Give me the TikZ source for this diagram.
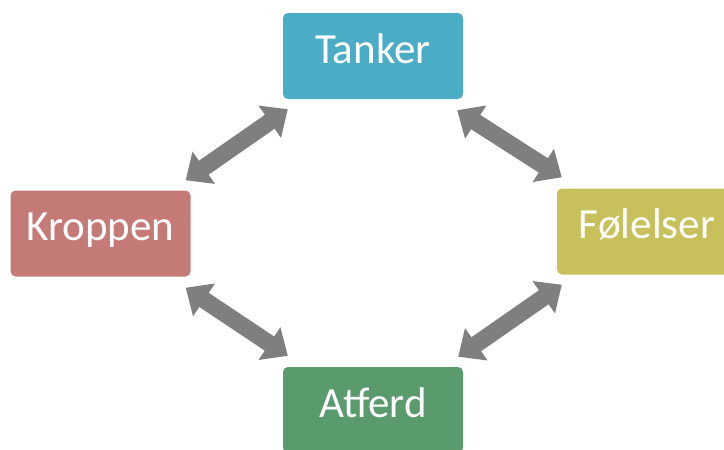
\documentclass[tikz,border=0pt]{standalone}
\usepackage{fontspec}
\setmainfont{Carlito}
\usetikzlibrary{arrows.meta,calc}
\definecolor{cTanker}{RGB}{75,172,198}
\definecolor{cKroppen}{RGB}{196,123,120}
\definecolor{cFolelser}{RGB}{200,192,90}
\definecolor{cAtferd}{RGB}{90,155,110}
\definecolor{cArrow}{RGB}{127,127,127}
\tikzset{
  box/.style={rectangle, rounded corners=5pt, minimum width=180pt, minimum height=86pt,
    inner sep=0pt, text=white, font=\fontsize{43}{43}\selectfont,
    text height=30pt, text depth=16pt},
  dblarrow/.style={draw=cArrow, line width=17pt,
    {Triangle[length=22pt,width=38pt]}-{Triangle[length=22pt,width=38pt]}}
}
\begin{document}
\begin{tikzpicture}[x=1pt,y=-1pt]
\useasboundingbox (0,0) rectangle (724,450);
\node[box, fill=cTanker] (tanker) at (373,56) {Tanker};
\node[box, fill=cKroppen] (kroppen) at (100.5,233.5) {Kroppen};
\node[box, fill=cFolelser] (folelser) at (647,231.5) {Følelser};
\node[box, fill=cAtferd] (atferd) at (373,410) {Atferd};
\coordinate (a1s) at ($(tanker.south west)+(5,10)$);
\coordinate (a1e) at ($(kroppen.north east)+(-5,-10)$);
\coordinate (a2s) at ($(tanker.south east)+(-6,11)$);
\coordinate (a2e) at ($(folelser.north west)+(5,-11)$);
\coordinate (a3s) at ($(kroppen.south east)+(-5,11)$);
\coordinate (a3e) at ($(atferd.north west)+(5,-11)$);
\coordinate (a4s) at ($(folelser.south west)+(5,10)$);
\coordinate (a4e) at ($(atferd.north east)+(-5,-10)$);
\draw[dblarrow] (a1s) -- (a1e);
\draw[dblarrow] (a2s) -- (a2e);
\draw[dblarrow] (a3s) -- (a3e);
\draw[dblarrow] (a4s) -- (a4e);
\end{tikzpicture}
\end{document}
